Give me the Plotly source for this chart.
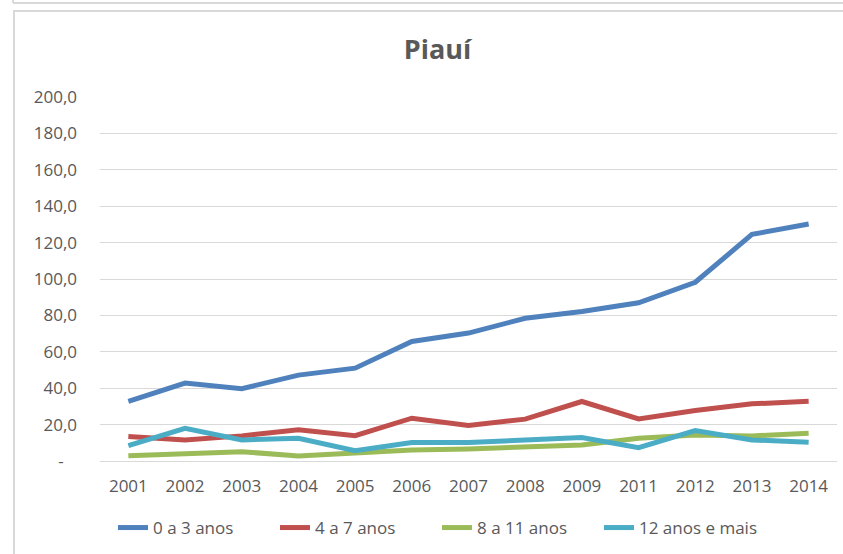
import plotly.graph_objects as go

anos = ["2001", "2002", "2003", "2004", "2005", "2006", "2007", "2008", "2009", "2011", "2012", "2013", "2014"]
serie_0_3 = [32.7, 42.8, 39.7, 47.2, 51.0, 65.7, 70.3, 78.4, 82.2, 86.9, 98.2, 124.5, 130.2]
serie_4_7 = [13.4, 11.6, 13.8, 17.1, 13.9, 23.5, 19.5, 23.0, 32.7, 23.1, 27.7, 31.4, 32.8]
serie_8_11 = [2.9, 3.9, 5.1, 2.8, 4.6, 6.1, 6.6, 7.9, 8.8, 12.5, 14.3, 13.8, 15.3]
serie_12 = [8.4, 18.0, 11.6, 12.5, 5.7, 10.1, 10.1, 11.6, 12.9, 7.3, 16.7, 11.6, 10.3]

nomes = ["0 a 3 anos", "4 a 7 anos", "8 a 11 anos", "12 anos e mais"]
cores = ["#4F81BD", "#C0504D", "#9BBB59", "#4BACC6"]
y_ticks = [0, 20, 40, 60, 80, 100, 120, 140, 160, 180, 200]
y_labels = ["-\u00a0\u00a0\u00a0", "20,0", "40,0", "60,0", "80,0", "100,0", "120,0", "140,0", "160,0", "180,0", "200,0"]

fig = go.Figure()
for nome, vals, cor in zip(nomes, [serie_0_3, serie_4_7, serie_8_11, serie_12], cores):
    fig.add_trace(go.Scatter(x=anos, y=vals, name=nome, mode="lines",
                             line=dict(color=cor, width=5)))

font_fam = "Open Sans, Noto Sans, sans-serif"
PW, PH = 737, 364
fig.update_layout(
    width=843, height=554,
    margin=dict(l=100, r=6, t=97, b=93, autoexpand=False),
    paper_bgcolor="white", plot_bgcolor="white",
    title=dict(text="<b>Piauí</b>", x=0.519, xanchor="center", y=0.91, yanchor="middle",
               font=dict(family=font_fam, size=27, color="#595959")),
    font=dict(family=font_fam, size=17, color="#595959"),
    xaxis=dict(type="category", range=[-0.5, 12.5], showgrid=False, showline=True,
               linecolor="#D9D9D9", ticks="", ticklabelstandoff=10,
               tickfont=dict(size=17, color="#595959")),
    yaxis=dict(range=[0, 200], tickvals=y_ticks, ticktext=y_labels, showgrid=True,
               gridcolor="#D9D9D9", gridwidth=1, zeroline=False, ticks="",
               ticklabelstandoff=22,
               tickfont=dict(size=17, color="#595959")),
    legend=dict(orientation="h", x=13/PW, xanchor="left", y=-67/PH, yanchor="middle",
                font=dict(size=17, color="#595959"), itemwidth=30,
                entrywidth=117, entrywidthmode="pixels", tracegroupgap=0),
    shapes=[
        dict(type="line", xref="paper", yref="paper", x0=-87/PW, x1=1.01,
             y0=1 + 86/PH, y1=1 + 86/PH, line=dict(color="#D9D9D9", width=2)),
        dict(type="line", xref="paper", yref="paper", x0=-86/PW, x1=-86/PW,
             y0=-93/PH, y1=1 + 86/PH, line=dict(color="#D9D9D9", width=2)),
        dict(type="line", xref="paper", yref="paper", x0=-87/PW, x1=1.01,
             y0=1 + 94/PH, y1=1 + 94/PH, line=dict(color="#D9D9D9", width=2)),
        dict(type="line", xref="paper", yref="paper", x0=-87/PW, x1=-87/PW,
             y0=1 + 94/PH, y1=1 + 97/PH, line=dict(color="#D9D9D9", width=2)),
    ],
)

fig.write_html("out.html", config={"displayModeBar": False},
               post_script="document.body.style.margin='0';")
